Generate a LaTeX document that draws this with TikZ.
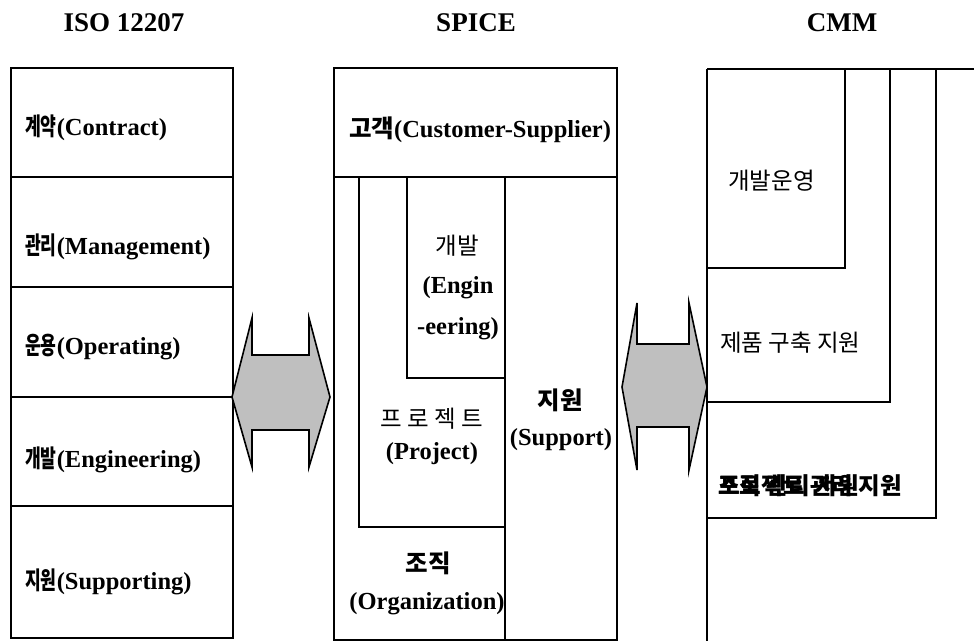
\documentclass[tikz,border=0pt]{standalone}
\usepackage{fontspec}
\setmainfont{Liberation Serif}
\newfontfamily\kr{Noto Sans CJK KR}
\newfontfamily\krn{Noto Sans CJK KR}[FakeStretch=0.7]
\newcommand{\KB}[1]{{\kr\bfseries #1}}
\newcommand{\KN}[1]{{\krn\bfseries #1}}
\newcommand{\KR}[1]{{\kr #1}}
\tikzset{
  box/.style={draw=black, line width=1.3pt},
  thickedge/.style={draw=black, line width=2pt},
  lbl/.style={font=\bfseries\fontsize{24.5}{28}\selectfont, inner sep=0pt},
  klbl/.style={font=\fontsize{23.5}{28}\selectfont, inner sep=0pt},
  hd/.style={font=\bfseries\fontsize{27}{30}\selectfont, inner sep=0pt, anchor=base},
  dblarrow/.style={draw=black, line width=1.6pt, fill=gray!50, line join=miter}
}
\begin{document}
\begin{tikzpicture}[x=1pt,y=-1pt]
\useasboundingbox (0,0) rectangle (974,641);
% headers
\node[hd] (h1) at (124,31) {ISO 12207};
\node[hd] (h2) at (476,31) {SPICE};
\node[hd] (h3) at (842,31) {CMM};

% ISO 12207 column
\draw[box] (11,68) rectangle (233,638);
\draw[thickedge] (233,68) -- (233,638);
\foreach \yy in {177,287,397,506} \draw[box] (11,\yy) -- (233,\yy);
\node[lbl, anchor=base west] (i1) at (25,135) {\KN{계약}(Contract)};
\node[lbl, anchor=base west] (i2) at (25,254) {\KN{관리}(Management)};
\node[lbl, anchor=base west] (i3) at (25,354) {\KN{운용}(Operating)};
\node[lbl, anchor=base west] (i4) at (25,467) {\KN{개발}(Engineering)};
\node[lbl, anchor=base west] (i5) at (25,589) {\KN{지원}(Supporting)};

% arrow 1
\draw[dblarrow] (232,397) -- (252,318) -- (252,355) -- (309,355) -- (309,318)
  -- (330,397) -- (309,467) -- (309,430) -- (252,430) -- (252,467) -- cycle;

% SPICE column
\draw[box] (334,68) rectangle (617,640);
\draw[thickedge] (617,68) -- (617,640);
\draw[box] (334,177) -- (617,177);
\draw[box] (505,177) -- (505,640);
\draw[box] (359,177) -- (359,527) -- (505,527);
\draw[box] (407,177) -- (407,378) -- (505,378);
\node[lbl, anchor=base] (s1) at (480,137) {\KB{고객}(Customer-Supplier)};
\node[klbl, anchor=base] (s2) at (457,254) {\KR{개발}};
\node[lbl, anchor=base] (s3) at (458,293) {(Engin};
\node[lbl, anchor=base] (s4) at (458,334) {-eering)};
\node[klbl, anchor=base] (s5) at (432,427) {\KR{프 로 젝 트}};
\node[lbl, anchor=base] (s6) at (432,459) {(Project)};
\node[lbl, anchor=base] (s7) at (560,409) {\KB{지원}};
\node[lbl, anchor=base] (s8) at (561,445) {(Support)};
\node[lbl, anchor=base] (s9) at (428,572) {\KB{조직}};
\node[lbl, anchor=base] (s10) at (427,609) {(Organization)};

% arrow 2
\draw[dblarrow] (622,387) -- (637,303) -- (637,344) -- (689,344) -- (689,303)
  -- (707,387) -- (689,470) -- (689,427) -- (637,427) -- (637,470) -- cycle;

% CMM column
\draw[box] (707,69) -- (980,69);
\draw[box] (707,69) -- (707,641);
\draw[box] (707,268) -- (845,268) -- (845,69);
\draw[box] (707,402) -- (890,402) -- (890,69);
\draw[box] (707,518) -- (936,518) -- (936,69);
\node[klbl, anchor=base west] (c1) at (728,189) {\KR{개발운영}};
\node[klbl, anchor=base west] (c2) at (720,351) {\KR{제품 구축 지원}};
\node[klbl, anchor=base west] (c3) at (718,494) {\rlap{\KB{조직 관리 지원}}\KB{프로젝트 관리 지원}};
\end{tikzpicture}
\end{document}
